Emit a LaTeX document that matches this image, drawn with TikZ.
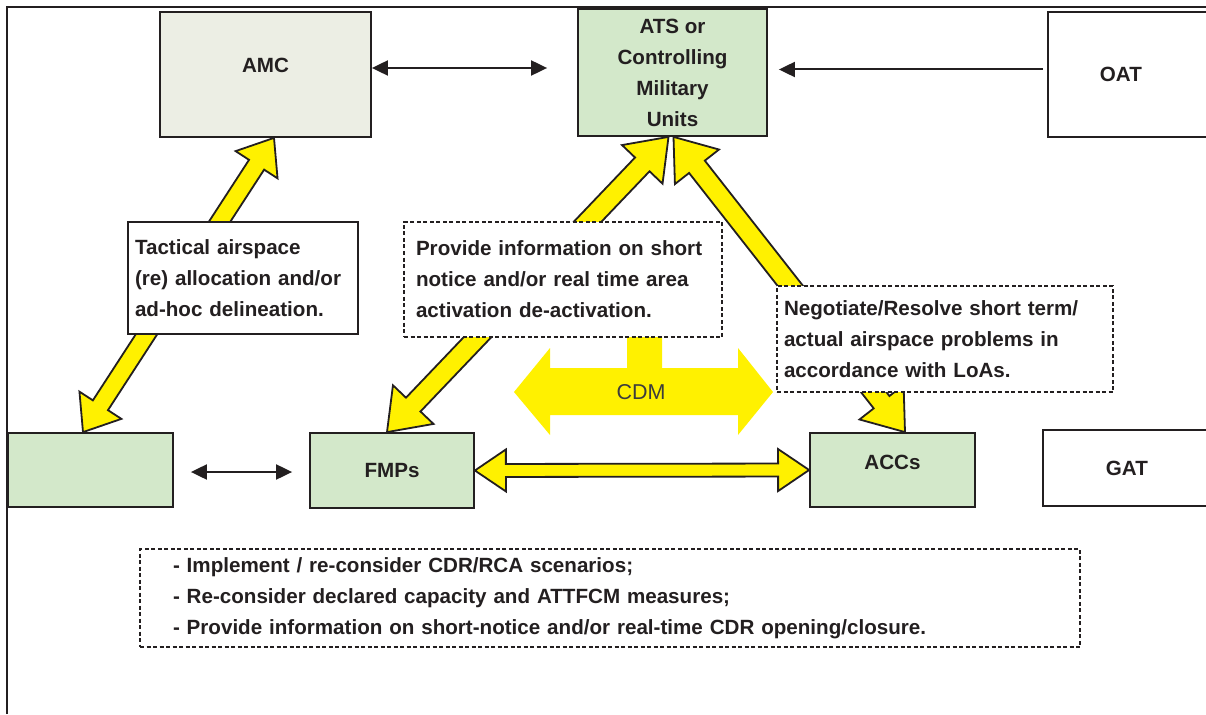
\documentclass[tikz,border=0pt]{standalone}
\usepackage{fontspec}
\setmainfont{Liberation Sans}
\usetikzlibrary{arrows.meta,calc}
\definecolor{ink}{HTML}{231F20}
\definecolor{unitgreen}{HTML}{D3E8CA}
\definecolor{amcgrey}{HTML}{ECEEE4}
\definecolor{arrowyellow}{HTML}{FFF100}
\definecolor{cdmink}{HTML}{3C3C3C}

\newcommand{\fatarrow}[5]{%
  \coordinate (fs) at (#1);
  \coordinate (fe) at (#2);
  \draw[fatfill] (fs) -- ($(fs)!#3!(fe)!#4!90:(fe)$) -- ($(fs)!#3!(fe)!#5!90:(fe)$)
    -- ($(fe)!#3!(fs)!#5!-90:(fs)$) -- ($(fe)!#3!(fs)!#4!-90:(fs)$) -- (fe)
    -- ($(fe)!#3!(fs)!#4!90:(fs)$) -- ($(fe)!#3!(fs)!#5!90:(fs)$)
    -- ($(fs)!#3!(fe)!#5!-90:(fe)$) -- ($(fs)!#3!(fe)!#4!-90:(fe)$) -- cycle;}

\begin{document}
\begin{tikzpicture}[x=1pt, y=-1pt, >={Triangle[length=16pt,width=15pt]},
  lbl/.style={font=\fontsize{20.6}{31}\selectfont\bfseries, text=ink},
  unitbox/.style={lbl, draw=ink, line width=1.8pt, align=center},
  notebox/.style={lbl, draw=ink, fill=white, line width=1.6pt, align=left},
  dashbox/.style={notebox, line width=1.4pt, dash pattern=on 4pt off 2.5pt},
  link/.style={line width=2pt, draw=ink},
  fatfill/.style={draw=ink, line width=1.8pt, fill=arrowyellow, line join=miter}]
  \useasboundingbox (0,0) rectangle (1206,714);
  \draw[line width=2pt, draw=ink] (7,714) -- (7,7) -- (1206,7);

  \node[unitbox, fill=amcgrey, minimum width=211pt, minimum height=125pt, text depth=19pt] (amc) at (265.5,74.5) {AMC};
  \node[unitbox, fill=unitgreen, minimum width=189pt, minimum height=127pt] (ats) at (672.5,72.5) {ATS or\\Controlling\\Military\\Units};
  \node[unitbox, align=left, anchor=west, text width=140pt, inner xsep=52pt, minimum height=125pt] (oat) at (1047,74.5) {OAT};
  \node[unitbox, fill=unitgreen, minimum width=165pt, minimum height=74pt] (lbox) at (90.5,470) {};
  \node[unitbox, fill=unitgreen, minimum width=164pt, minimum height=75pt] (fmp) at (392,470.5) {FMPs};
  \node[unitbox, fill=unitgreen, minimum width=165pt, minimum height=74pt, text depth=16pt] (acc) at (892.5,470) {ACCs};
  \node[unitbox, align=left, anchor=west, text width=140pt, inner xsep=63pt, minimum height=76pt] (gat) at (1042,468) {GAT};

  \draw[link, <->] ([yshift=6.5pt]amc.east) -- ([xshift=-30pt,yshift=4.5pt]ats.west);
  \draw[link, ->] ([xshift=-4pt,yshift=5pt]oat.west) -- ([xshift=11pt,yshift=3pt]ats.east);
  \draw[link, <->] ([xshift=17pt,yshift=-2pt]lbox.east) -- ([xshift=-17pt,yshift=-1.5pt]fmp.west);

  \fatarrow{[xshift=8.5pt]amc.south}{[xshift=-7.5pt]lbox.north}{32pt}{25pt}{9pt}
  \fatarrow{[xshift=-4pt]ats.south}{[xshift=-5pt]fmp.north}{38pt}{28pt}{10pt}
  \fatarrow{[xshift=1pt]ats.south}{[xshift=12.5pt]acc.north}{38pt}{28pt}{10pt}
  \fatarrow{fmp.east}{acc.west}{31pt}{21pt}{6.5pt}

  \fill[arrowyellow] (514,392) -- (550,348) -- (550,368) -- (627,368) -- (627,330) -- (662,330)
    -- (662,368) -- (738,368) -- (738,348) -- (773,392) -- (738,435) -- (738,415)
    -- (550,415) -- (550,435) -- cycle;
  \node[font=\fontsize{21.5}{26}\selectfont, text=cdmink] (cdm) at (641,392) {CDM};

  \node[notebox, text width=216pt, inner xsep=7pt, minimum height=112pt] (tact) at (243,278) {Tactical airspace\\(re) allocation and/or\\ad-hoc delineation.};
  \node[dashbox, text width=294pt, inner xsep=12pt, minimum height=115pt] (prov) at (563,279.5) {Provide information on short\\notice and/or real time area\\activation de-activation.};
  \node[dashbox, text width=322pt, inner xsep=7pt, minimum height=106pt] (nego) at (945,339) {Negotiate/Resolve short term/\\actual airspace problems in\\accordance with LoAs.};
  \node[dashbox, text width=874pt, inner xsep=33pt, minimum height=98pt] (list) at (610,598) {- Implement / re-consider CDR/RCA scenarios;\\- Re-consider declared capacity and ATTFCM measures;\\- Provide information on short-notice and/or real-time CDR opening/closure.};
\end{tikzpicture}
\end{document}
